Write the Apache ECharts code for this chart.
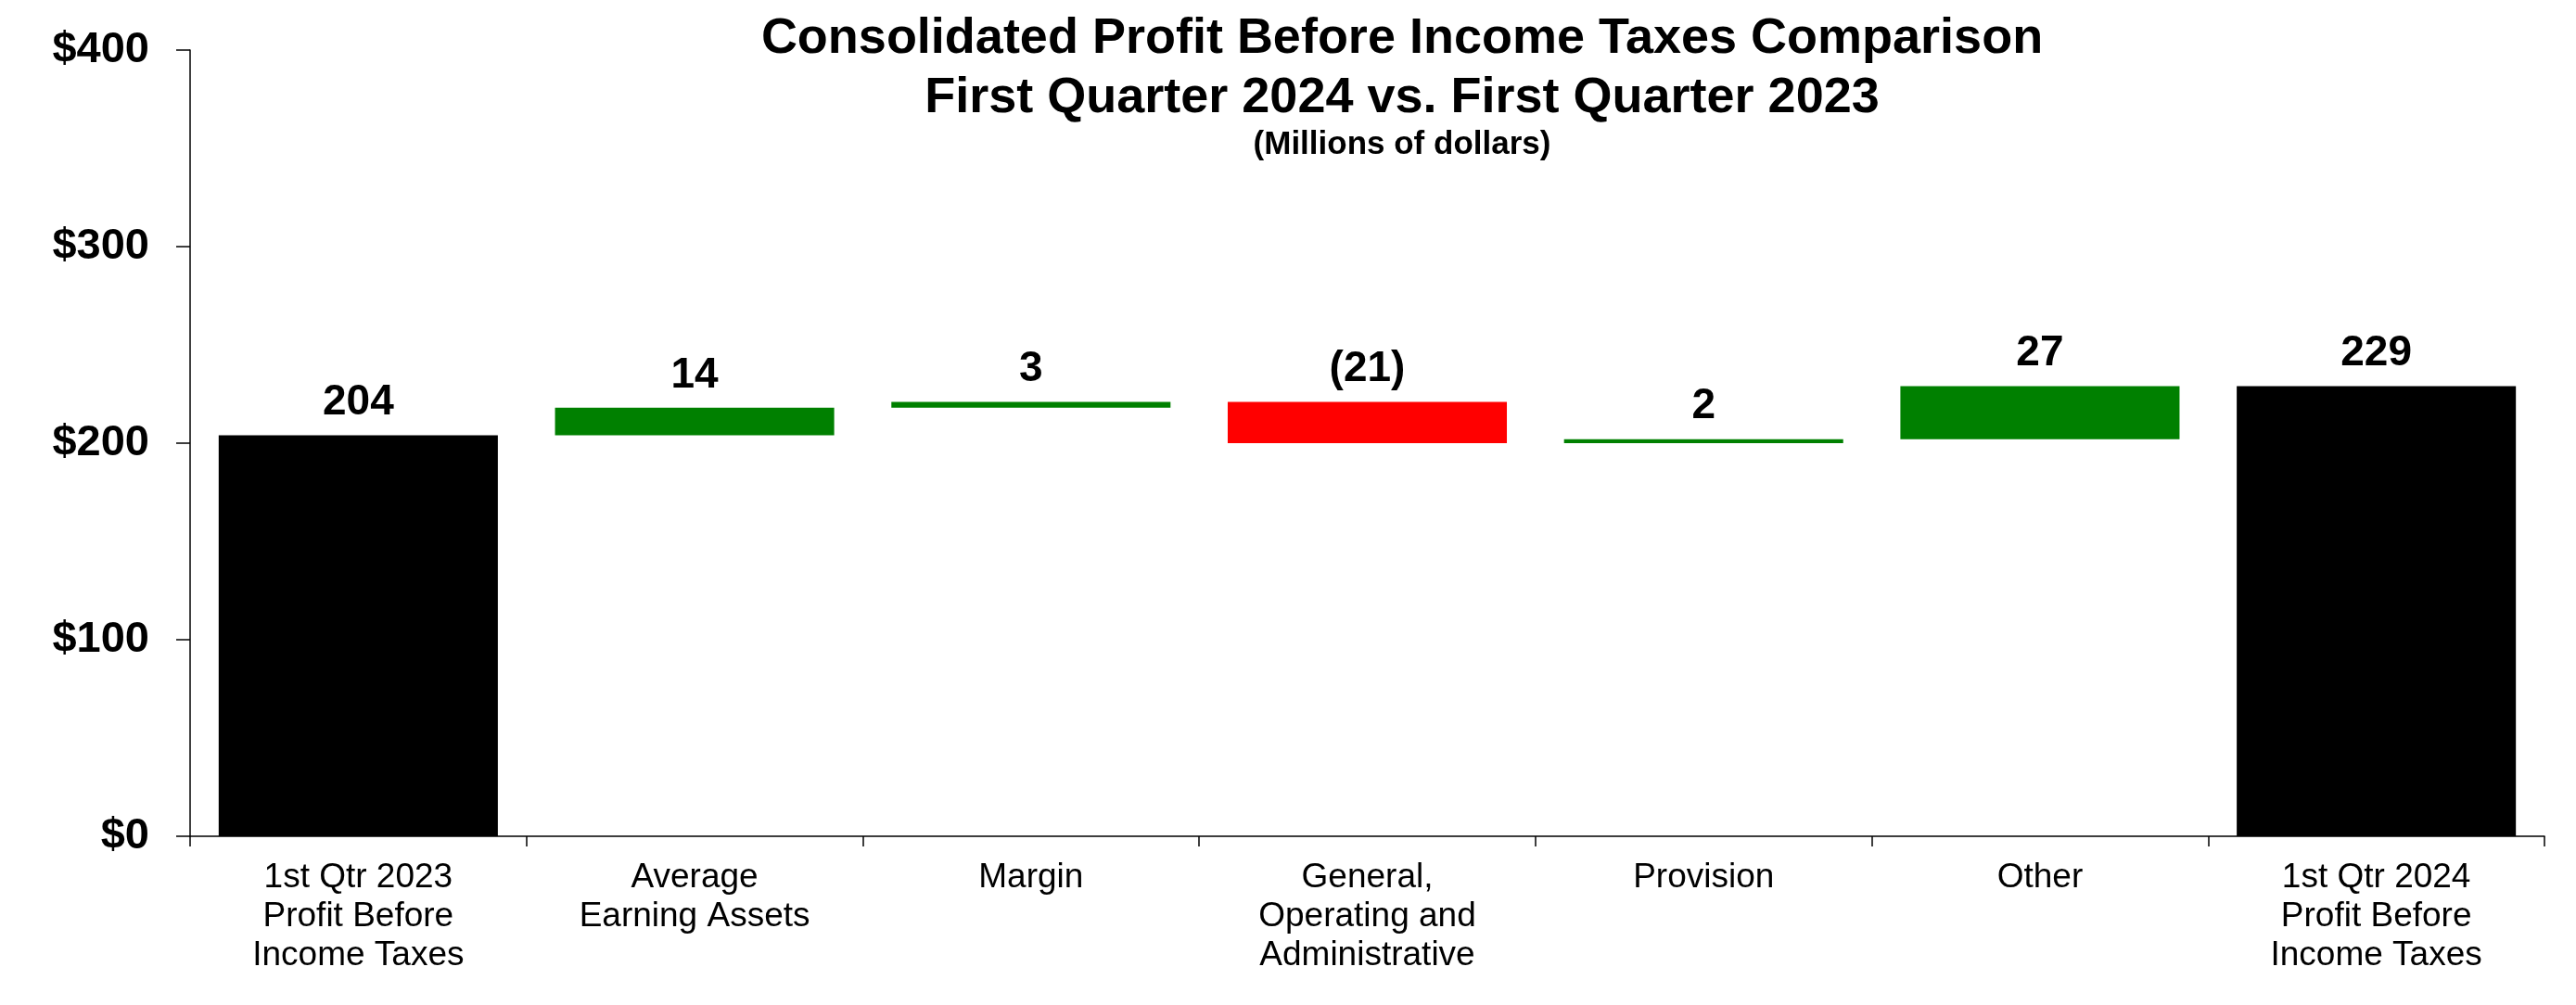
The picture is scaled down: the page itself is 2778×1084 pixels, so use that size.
<!DOCTYPE html>
<html>
<head>
<meta charset="utf-8">
<script src="https://cdn.jsdelivr.net/npm/echarts@6/dist/echarts.min.js"></script>
<style>
html,body{margin:0;padding:0;background:#fff;}
#c{width:2778px;height:1084px;}
</style>
</head>
<body>
<div id="c"></div>
<script>
const categories = [
  '1st Qtr 2023\nProfit Before\nIncome Taxes',
  'Average\nEarning Assets',
  'Margin',
  'General,\nOperating and\nAdministrative',
  'Provision',
  'Other',
  '1st Qtr 2024\nProfit Before\nIncome Taxes'
];
const values = [204, 14, 3, -21, 2, 27, 229];
const kinds = ['total', 'delta', 'delta', 'delta', 'delta', 'delta', 'total'];
const yTicks = [0, 100, 200, 300, 400];

const titleLine1 = 'Consolidated Profit Before Income Taxes Comparison';
const titleLine2 = 'First Quarter 2024 vs. First Quarter 2023';
const subTitle = '(Millions of dollars)';

const FONT = '"Liberation Sans", Arial, Helvetica, sans-serif';
const GREEN = '#008000', RED = '#FF0000', BLACK = '#000000';

// waterfall construction
const base = [], shown = [];
let running = 0;
values.forEach((v, i) => {
  if (kinds[i] === 'total') {
    base.push(0); shown.push(v); running = v;
  } else if (v >= 0) {
    base.push(running); shown.push(v); running += v;
  } else {
    running += v; base.push(running); shown.push(-v);
  }
});
const colorOf = i => kinds[i] === 'total' ? BLACK : (values[i] >= 0 ? GREEN : RED);

const chart = echarts.init(document.getElementById('c'), null, {renderer: 'canvas'});
chart.setOption({
  animation: false,
  backgroundColor: '#ffffff',
  graphic: [
    {type: 'text', x: 1512, y: 42, style: {text: titleLine1, font: 'bold 54px ' + FONT, fill: '#000', align: 'center', verticalAlign: 'middle', textAlign: 'center', textVerticalAlign: 'middle'}},
    {type: 'text', x: 1512, y: 106, style: {text: titleLine2, font: 'bold 54px ' + FONT, fill: '#000', align: 'center', verticalAlign: 'middle', textAlign: 'center', textVerticalAlign: 'middle'}},
    {type: 'text', x: 1512, y: 156, style: {text: subTitle, font: 'bold 35px ' + FONT, fill: '#000', align: 'center', verticalAlign: 'middle', textAlign: 'center', textVerticalAlign: 'middle'}}
  ],
  grid: {left: 205, right: 34, top: 54, bottom: 182, containLabel: false},
  xAxis: {
    type: 'category',
    data: categories,
    axisLine: {lineStyle: {color: '#000', width: 1.5}},
    axisTick: {show: true, length: 11, lineStyle: {color: '#000', width: 1.5}},
    axisLabel: {
      color: '#000', fontFamily: FONT, fontSize: 37, lineHeight: 42, margin: 24, interval: 0
    },
    splitLine: {show: false}
  },
  yAxis: {
    type: 'value',
    min: yTicks[0], max: yTicks[yTicks.length - 1], interval: 100,
    axisLine: {show: true, lineStyle: {color: '#000', width: 1.5}},
    axisTick: {show: true, length: 15, lineStyle: {color: '#000', width: 1.5}},
    axisLabel: {
      color: '#000', fontFamily: FONT, fontSize: 47, fontWeight: 'bold', margin: 44,
      formatter: v => '$' + v
    },
    splitLine: {show: false}
  },
  series: [
    {
      type: 'bar', stack: 'w', barCategoryGap: '17%',
      data: base,
      itemStyle: {color: 'transparent'},
      emphasis: {disabled: true},
      silent: true
    },
    {
      type: 'bar', stack: 'w', barCategoryGap: '17%',
      data: shown.map((h, i) => ({value: h, itemStyle: {color: colorOf(i)}})),
      label: {
        show: true, position: 'top', distance: 12,
        color: '#000', fontFamily: FONT, fontSize: 46, fontWeight: 'bold',
        formatter: p => {
          const v = values[p.dataIndex];
          return v < 0 ? '(' + Math.abs(v) + ')' : String(v);
        }
      }
    }
  ]
});
</script>
</body>
</html>
